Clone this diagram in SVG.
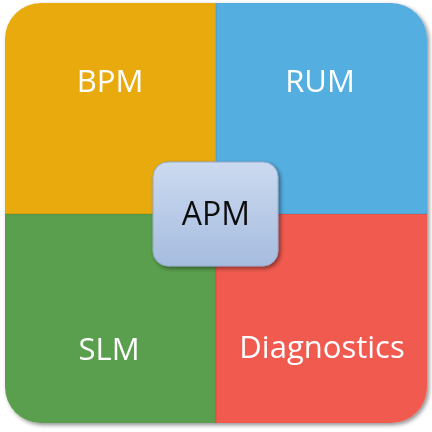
<svg xmlns="http://www.w3.org/2000/svg" width="432" height="432" viewBox="0 0 432 432">
<defs>
<clipPath id="outer"><rect x="5" y="3" width="422" height="420" rx="36"/></clipPath>
<linearGradient id="apmg" x1="0" y1="0" x2="0" y2="1"><stop offset="0" stop-color="#CCDAF0"/><stop offset="1" stop-color="#A6BCDF"/></linearGradient>
<filter id="sh" x="-10%" y="-10%" width="125%" height="125%"><feGaussianBlur in="SourceAlpha" stdDeviation="2"/><feOffset dx="2" dy="2"/><feComponentTransfer><feFuncA type="linear" slope="0.45"/></feComponentTransfer><feMerge><feMergeNode/><feMergeNode in="SourceGraphic"/></feMerge></filter>
</defs>
<style>
.lbl{font-family:"Open Sans","Liberation Sans",sans-serif;font-size:31px;fill:#ffffff;text-anchor:middle}
.apm{font-family:"Open Sans","Liberation Sans",sans-serif;font-size:32px;fill:#111111;text-anchor:middle}
</style>
<rect width="432" height="432" fill="#ffffff"/>
<g filter="url(#sh)">
<g clip-path="url(#outer)">
<g id="bpm"><rect x="5" y="3" width="211" height="211" fill="#E8AA0E"/><text class="lbl" x="110" y="92">BPM</text></g>
<g id="rum"><rect x="216" y="3" width="211" height="211" fill="#55AEE0"/><text class="lbl" x="320" y="92">RUM</text></g>
<g id="slm"><rect x="5" y="214" width="211" height="209" fill="#5A9F4E"/><text class="lbl" x="109" y="360">SLM</text></g>
<g id="diagnostics"><rect x="216" y="214" width="211" height="209" fill="#F15A50"/><text class="lbl" x="322" y="358">Diagnostics</text></g>
</g>
</g>
<g id="connectors" stroke="#000000" stroke-opacity="0.12" stroke-width="1"><line x1="216" y1="3" x2="216" y2="423"/><line x1="5" y1="214" x2="427" y2="214"/></g>
<g id="apm" filter="url(#sh)"><rect x="153" y="162" width="125" height="104" rx="15" fill="url(#apmg)" stroke="#94AACB" stroke-width="1"/><text class="apm" x="216" y="225">APM</text></g>
</svg>
